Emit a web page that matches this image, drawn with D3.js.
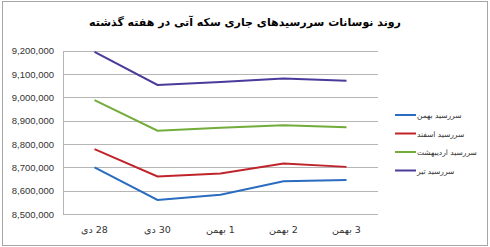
<html>
	<head>
		<meta content="text/html;charset=utf-8" http-equiv="Content-Type">
		<script src="https://d3js.org/d3.v7.min.js"></script>
		<style>
			body { margin: 0; background: #fff; }
			svg { display: block; }
		</style>
	</head>
	<body>
		<svg id="chart"></svg>
		<script>

			// chart data
			var title = "روند نوسانات سررسیدهای جاری سکه آتی در هفته گذشته";
			var days = ["28 دی", "30 دی", "1 بهمن", "2 بهمن", "3 بهمن"];
			var seriesNames = ["سررسید بهمن", "سررسید اسفند", "سررسید اردیبهشت", "سررسید تیر"];
			var seriesColors = ["#2a6cbf", "#c0242b", "#72ac3a", "#4b3a9a"];
			var bahman = [8700000, 8560000, 8583000, 8640000, 8646000];
			var esfand = [8778000, 8661000, 8674000, 8716000, 8702000];
			var ordibehesht = [8988000, 8857000, 8870000, 8880000, 8872000];
			var tir = [9195000, 9053000, 9066000, 9081000, 9071000];
			var yTicks = [8500000, 8600000, 8700000, 8800000, 8900000, 9000000, 9100000, 9200000];

			var allSeries = [bahman, esfand, ordibehesht, tir];

			var width = 490, height = 247;
			var svg = d3.select("#chart").attr("width", width).attr("height", height);

			// outer frame
			svg.append("rect")
				.attr("x", 2.5).attr("y", 1.5)
				.attr("width", 485).attr("height", 244)
				.attr("fill", "#fff")
				.attr("stroke", "#a6a6a6");

			// title
			svg.append("text")
				.attr("x", 245).attr("y", 26)
				.attr("text-anchor", "middle")
				.attr("direction", "rtl")
				.style("font-family", "DejaVu Sans")
				.style("font-weight", "bold")
				.style("font-size", "11px")
				.text(title);

			// scales
			var x = d3.scalePoint().domain(days).range([63, 378]).padding(0.5);
			var y = d3.scaleLinear().domain([8500000, 9200000]).range([214, 50.7]);

			// horizontal gridlines
			svg.append("g").selectAll("line").data(yTicks).enter().append("line")
				.attr("x1", 63).attr("x2", 378)
				.attr("y1", function(d){ return Math.round(y(d)) + 0.5; })
				.attr("y2", function(d){ return Math.round(y(d)) + 0.5; })
				.attr("stroke", "#b5b5b5");

			// left axis line
			svg.append("line")
				.attr("x1", 63.5).attr("x2", 63.5)
				.attr("y1", Math.round(y(9200000)) + 0.5).attr("y2", Math.round(y(8500000)) + 0.5)
				.attr("stroke", "#b5b5b5");

			// y tick labels
			svg.append("g").selectAll("text").data(yTicks).enter().append("text")
				.attr("x", 54)
				.attr("y", function(d){ return y(d) + 3.5; })
				.attr("text-anchor", "end")
				.style("font-family", "Liberation Sans")
				.style("font-size", "9.5px")
				.style("fill", "#333")
				.text(d3.format(","));

			// x tick labels
			svg.append("g").selectAll("text").data(days).enter().append("text")
				.attr("x", function(d){ return x(d); })
				.attr("y", 233)
				.attr("text-anchor", "middle")
				.attr("direction", "rtl")
				.style("font-family", "DejaVu Sans")
				.style("font-size", "9.5px")
				.style("fill", "#333")
				.text(function(d){ return d; });

			// series lines
			var line = d3.line()
				.x(function(d, i){ return x(days[i]); })
				.y(function(d){ return y(d); });

			svg.append("g").selectAll("path").data(allSeries).enter().append("path")
				.attr("d", line)
				.attr("fill", "none")
				.attr("stroke", function(d, i){ return seriesColors[i]; })
				.attr("stroke-width", 2);

			// legend
			var legend = svg.append("g").selectAll("g").data(seriesNames).enter().append("g")
				.attr("transform", function(d, i){ return "translate(395," + (115 + i * 18.5) + ")"; });
			legend.append("line")
				.attr("x1", 0).attr("x2", 21)
				.attr("stroke", function(d, i){ return seriesColors[i]; })
				.attr("stroke-width", 2);
			legend.append("text")
				.attr("x", 22).attr("y", 3)
				.attr("direction", "rtl")
				.attr("text-anchor", "end")
				.style("font-family", "DejaVu Sans")
				.style("font-size", "7.5px")
				.style("fill", "#333")
				.text(function(d){ return d; });

		</script>
	</body>
</html>
